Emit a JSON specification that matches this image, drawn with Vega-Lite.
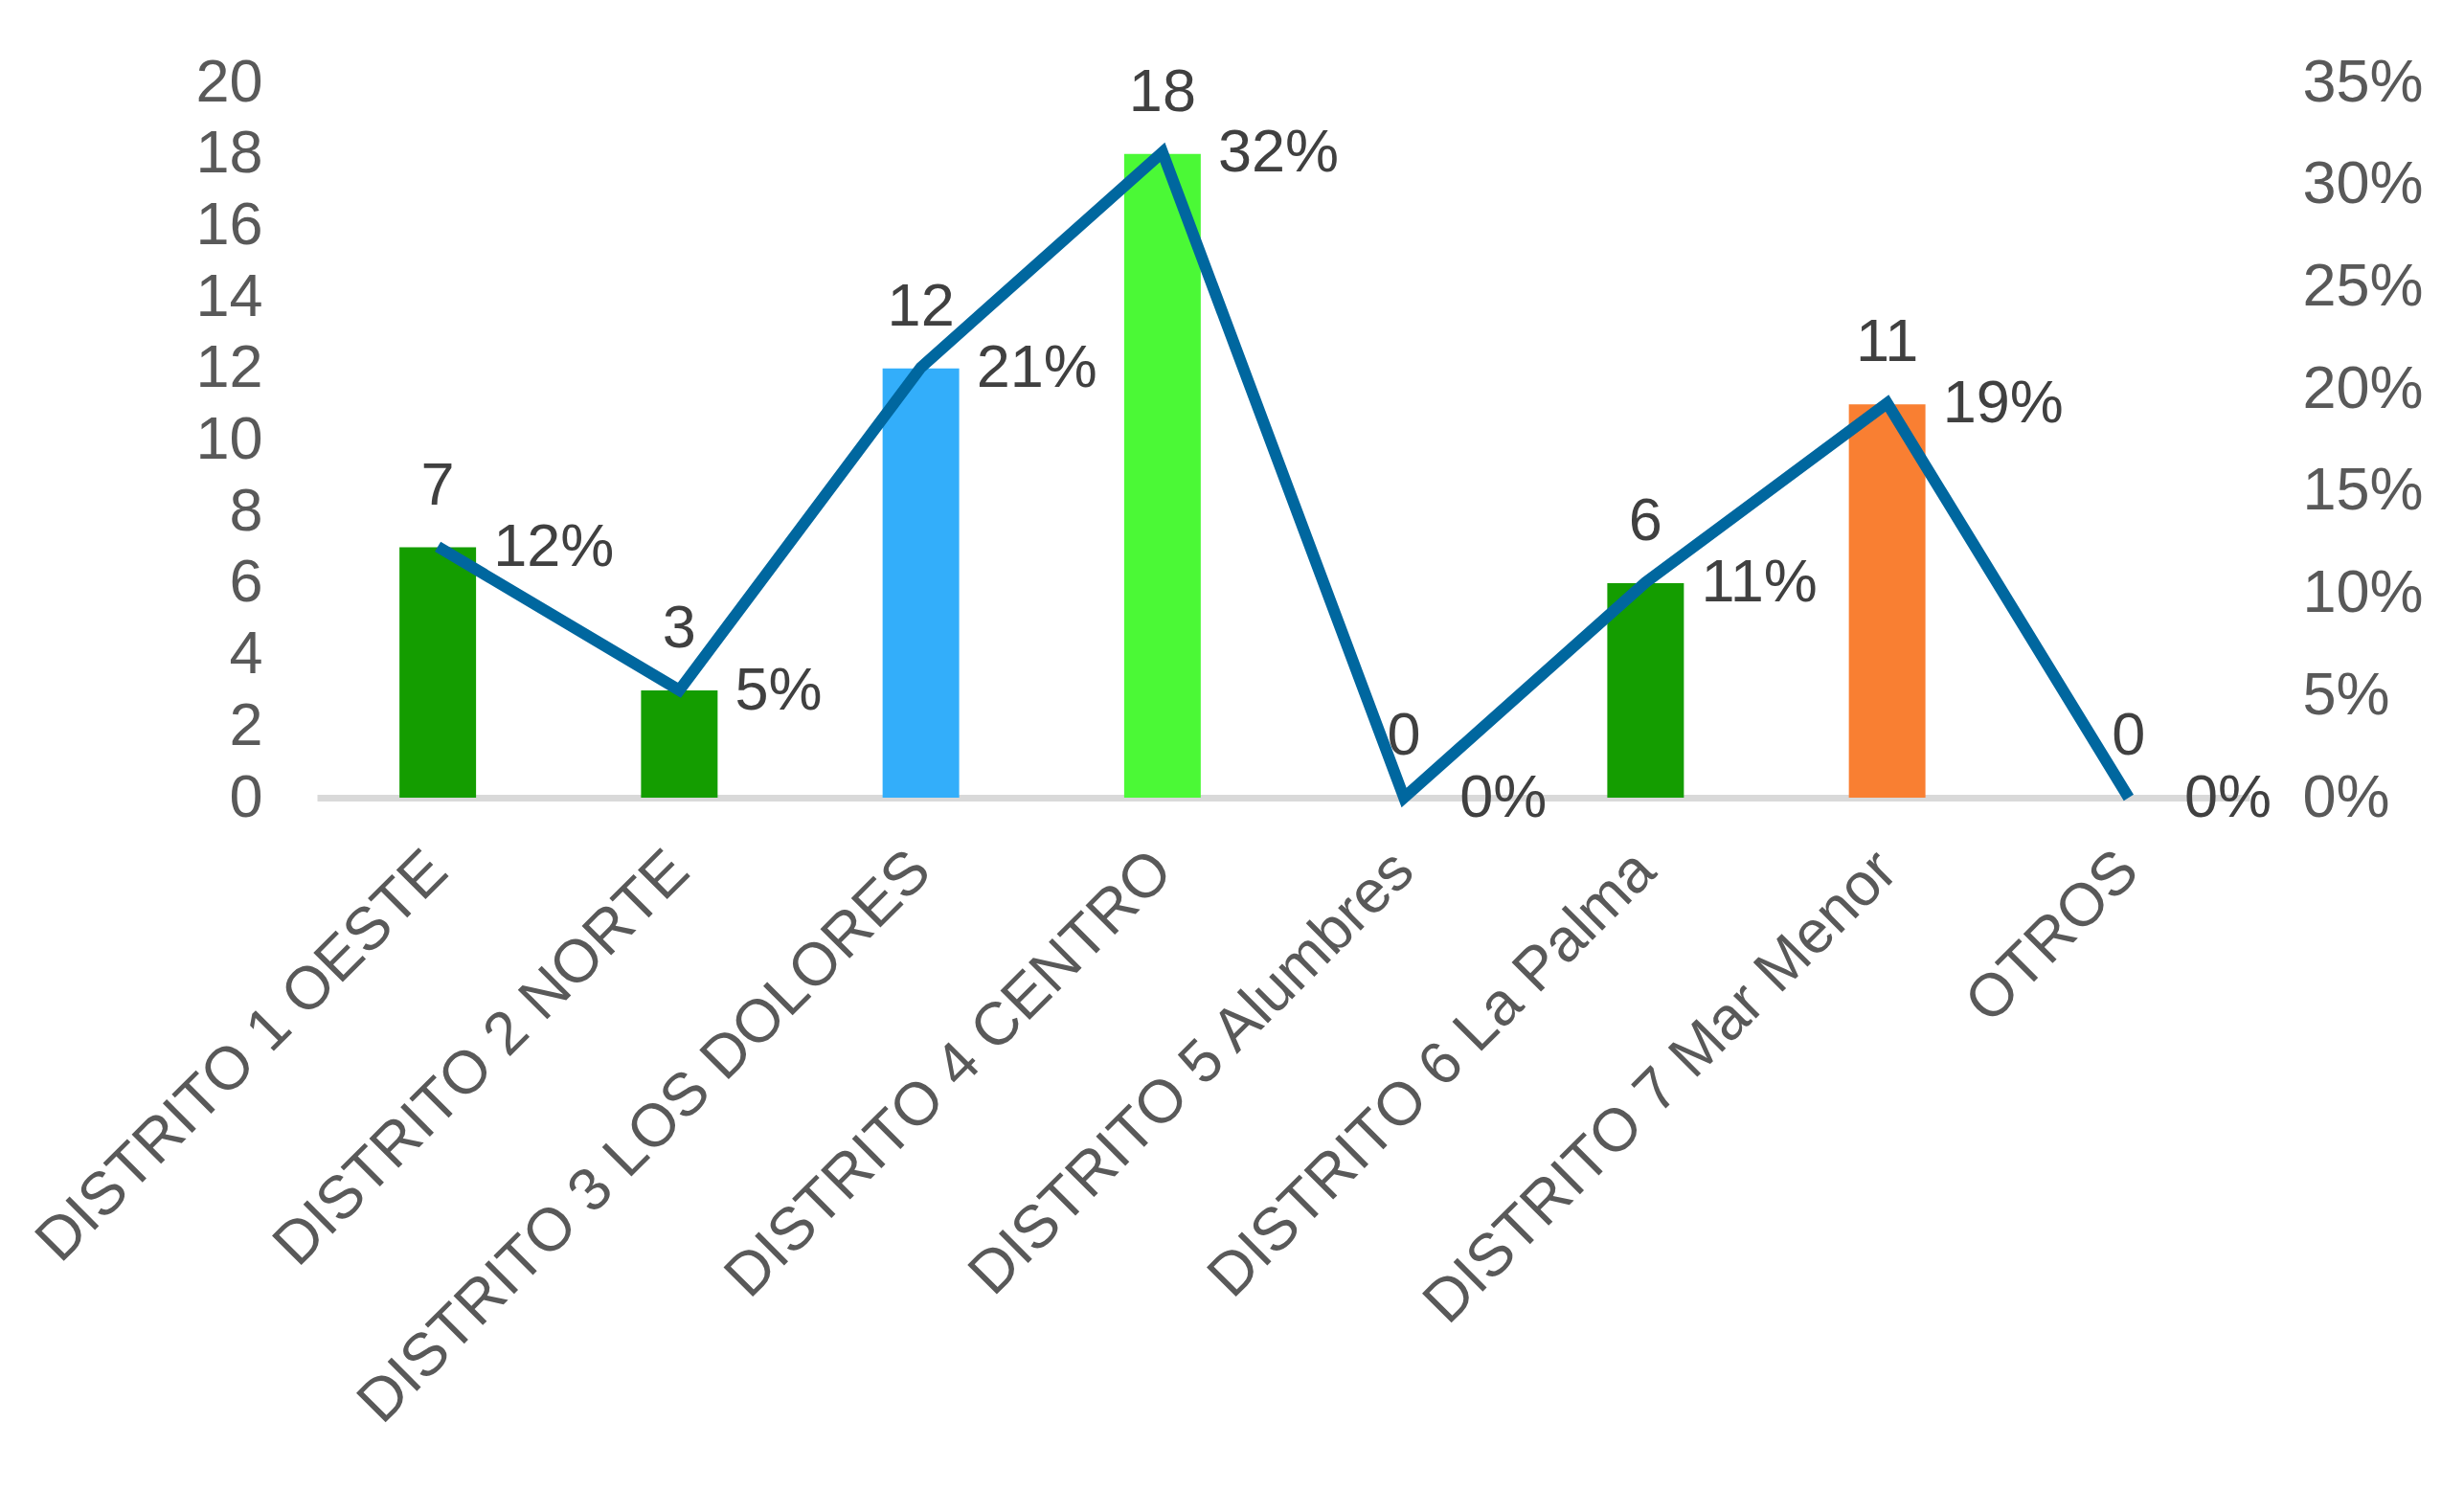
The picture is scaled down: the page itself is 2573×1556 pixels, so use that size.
{
  "$schema": "https://vega.github.io/schema/vega-lite/v6.json",
  "autosize": "none",
  "width": 2018,
  "height": 747,
  "padding": {"left": 331, "top": 86, "right": 224, "bottom": 723},
  "background": "white",
  "config": {
    "view": {"stroke": null},
    "font": "Liberation Sans",
    "axis": {"labelFont": "Liberation Sans", "labelFontSize": 63, "labelColor": "#595959", "grid": false, "ticks": false, "title": null}
  },
  "data": {
    "values": [
      {"distrito": "DISTRITO 1 OESTE", "n": 7, "pct": 0.1228},
      {"distrito": "DISTRITO 2 NORTE", "n": 3, "pct": 0.0526},
      {"distrito": "DISTRITO 3 LOS DOLORES", "n": 12, "pct": 0.2105},
      {"distrito": "DISTRITO 4 CENTRO", "n": 18, "pct": 0.3158},
      {"distrito": "DISTRITO 5 Alumbres", "n": 0, "pct": 0},
      {"distrito": "DISTRITO 6 La Palma", "n": 6, "pct": 0.1053},
      {"distrito": "DISTRITO 7 Mar Menor", "n": 11, "pct": 0.193},
      {"distrito": "OTROS", "n": 0, "pct": 0}
    ]
  },
  "encoding": {
    "x": {
      "field": "distrito",
      "type": "nominal",
      "sort": null,
      "scale": {"paddingInner": 0.683, "paddingOuter": 0.3415},
      "axis": {
        "labelAngle": -45,
        "labelAlign": "right",
        "labelBaseline": "middle",
        "labelPadding": 66,
        "labelLimit": 0,
        "domainColor": "#D9D9D9",
        "domainWidth": 7
      }
    }
  },
  "layer": [
    {
      "encoding": {
        "y": {
          "field": "n",
          "type": "quantitative",
          "scale": {"domain": [0, 20], "nice": false},
          "axis": {"orient": "left", "values": [0, 2, 4, 6, 8, 10, 12, 14, 16, 18, 20], "domain": false, "labelPadding": 57}
        }
      },
      "layer": [
        {
          "mark": {"type": "bar"},
          "encoding": {
            "color": {
              "field": "distrito",
              "type": "nominal",
              "legend": null,
              "scale": {
                "domain": ["DISTRITO 1 OESTE", "DISTRITO 2 NORTE", "DISTRITO 3 LOS DOLORES", "DISTRITO 4 CENTRO", "DISTRITO 5 Alumbres", "DISTRITO 6 La Palma", "DISTRITO 7 Mar Menor", "OTROS"],
                "range": ["#149D00", "#149D00", "#33AEFA", "#4BF936", "#149D00", "#149D00", "#F97F32", "#149D00"]
              }
            }
          }
        },
        {
          "mark": {"type": "text", "baseline": "alphabetic", "align": "center", "dy": -45, "fontSize": 63, "color": "#404040", "font": "Liberation Sans"},
          "encoding": {"text": {"field": "n", "type": "quantitative"}}
        }
      ]
    },
    {
      "encoding": {
        "y": {
          "field": "pct",
          "type": "quantitative",
          "scale": {"domain": [0, 0.35], "nice": false},
          "axis": {"orient": "right", "values": [0, 0.05, 0.1, 0.15, 0.2, 0.25, 0.3, 0.35], "format": ".0%", "domain": false, "labelPadding": 55}
        }
      },
      "layer": [
        {
          "mark": {"type": "line", "color": "#00679F", "strokeWidth": 12, "strokeJoin": "miter", "clip": false},
          "encoding": {}
        },
        {
          "mark": {"type": "text", "baseline": "middle", "align": "left", "dx": 58, "dy": 1, "fontSize": 63, "color": "#404040", "font": "Liberation Sans"},
          "encoding": {"text": {"field": "pct", "type": "quantitative", "format": ".0%"}}
        }
      ]
    }
  ],
  "resolve": {"scale": {"y": "independent"}}
}
